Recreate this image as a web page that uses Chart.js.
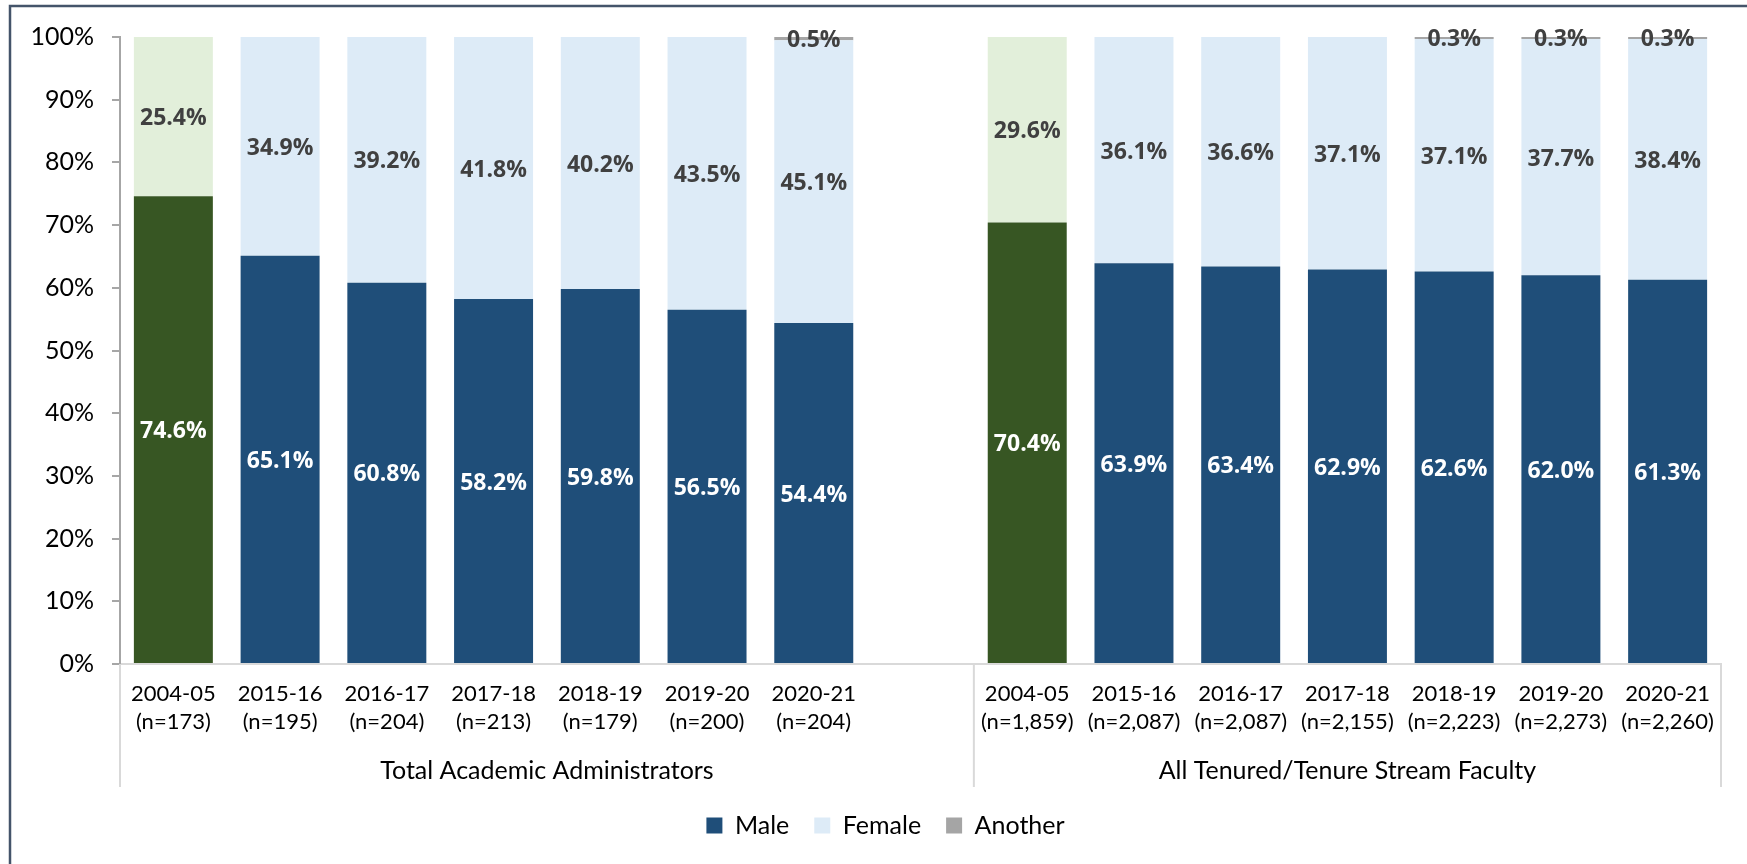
<!DOCTYPE html>
<html>
<head>
<meta charset="utf-8">
<script src="https://cdn.jsdelivr.net/npm/chart.js@4.4.1/dist/chart.umd.min.js"></script>
<style>
html,body{margin:0;padding:0;background:#ffffff;}
#wrap{width:1747px;height:864px;position:relative;}
</style>
</head>
<body>
<div id="wrap"><canvas id="c" width="1747" height="864"></canvas></div>
<script>
// ---- data ----
const years  = ['2004-05','2015-16','2016-17','2017-18','2018-19','2019-20','2020-21','',
                '2004-05','2015-16','2016-17','2017-18','2018-19','2019-20','2020-21'];
const counts = ['(n=173)','(n=195)','(n=204)','(n=213)','(n=179)','(n=200)','(n=204)','',
                '(n=1,859)','(n=2,087)','(n=2,087)','(n=2,155)','(n=2,223)','(n=2,273)','(n=2,260)'];
const groupNames = ['Total Academic Administrators','All Tenured/Tenure Stream Faculty'];
const groupFirst = [0, 8];
const groupLast  = [7, 14];
const male    = [74.6, 65.1, 60.8, 58.2, 59.8, 56.5, 54.4, null, 70.4, 63.9, 63.4, 62.9, 62.6, 62.0, 61.3];
const female  = [25.4, 34.9, 39.2, 41.8, 40.2, 43.5, 45.1, null, 29.6, 36.1, 36.6, 37.1, 37.1, 37.7, 38.4];
const another = [null, null, null, null, null, null, 0.5, null, null, null, null, null, 0.3, 0.3, 0.3];
const seriesNames = ['Male','Female','Another'];
const yTickValues = [0,10,20,30,40,50,60,70,80,90,100];
const baselineYear = '2004-05';

// ---- styles ----
const C_MALE = '#1F4E79', C_FEMALE = '#DDEBF7', C_ANOTHER = '#A5A5A5';
const C_MALE_OLD = '#375623', C_FEMALE_OLD = '#E2EFDA';
const legendColors = [C_MALE, C_FEMALE, C_ANOTHER];
const isOld = i => years[i] === baselineYear;

const labels = years.map((y, i) => y ? [y, counts[i]] : '');

const dataLabels = {
  id: 'dataLabels',
  afterDatasetsDraw(chart) {
    const ctx = chart.ctx;
    chart.data.datasets.forEach((ds, di) => {
      const meta = chart.getDatasetMeta(di);
      if (meta.hidden) return;
      meta.data.forEach((bar, i) => {
        const v = ds.data[i];
        if (v == null || v === 0) return;
        const p = bar.getProps(['x', 'y', 'base'], true);
        ctx.save();
        ctx.font = 'bold 23px "Open Sans"';
        ctx.fillStyle = di === 0 ? '#FFFFFF' : '#404040';
        ctx.textAlign = 'center';
        ctx.textBaseline = 'middle';
        ctx.fillText(v.toFixed(1) + '%', p.x, (p.y + p.base) / 2 + 2);
        ctx.restore();
      });
    });
  }
};

const decor = {
  id: 'decor',
  afterDraw(chart) {
    const ctx = chart.ctx;
    const xs = chart.scales.x;
    const a = chart.chartArea;
    const lineBottom = a.bottom + 123;
    ctx.save();
    ctx.strokeStyle = '#D9D9D9';
    ctx.lineWidth = 2;
    const seps = [xs.getPixelForValue(-0.5), xs.getPixelForValue(7.5), xs.getPixelForValue(14.5)];
    seps.forEach(x => {
      ctx.beginPath();
      ctx.moveTo(x, a.bottom);
      ctx.lineTo(x, lineBottom);
      ctx.stroke();
    });
    ctx.fillStyle = '#000000';
    ctx.font = '25px Lato';
    ctx.textAlign = 'center';
    ctx.textBaseline = 'middle';
    groupNames.forEach((g, k) => {
      const x0 = xs.getPixelForValue(groupFirst[k] - 0.5);
      const x1 = xs.getPixelForValue(groupLast[k] + 0.5);
      ctx.fillText(g, (x0 + x1) / 2, a.bottom + 107);
    });
    ctx.strokeStyle = '#44546A';
    ctx.lineWidth = 2.5;
    ctx.beginPath();
    ctx.moveTo(10, 870);
    ctx.lineTo(10, 6);
    ctx.lineTo(1760, 6);
    ctx.stroke();
    ctx.restore();
  }
};

new Chart(document.getElementById('c'), {
  type: 'bar',
  data: {
    labels: labels,
    datasets: [
      { label: seriesNames[0], data: male,
        backgroundColor: ctx => isOld(ctx.dataIndex) ? C_MALE_OLD : C_MALE },
      { label: seriesNames[1], data: female,
        backgroundColor: ctx => isOld(ctx.dataIndex) ? C_FEMALE_OLD : C_FEMALE },
      { label: seriesNames[2], data: another, backgroundColor: C_ANOTHER }
    ]
  },
  options: {
    responsive: false,
    devicePixelRatio: 1,
    animation: false,
    layout: { padding: { left: 24, right: 0, top: 37, bottom: 16 } },
    datasets: { bar: { categoryPercentage: 1.0, barPercentage: 0.74, borderWidth: 0 } },
    scales: {
      x: {
        stacked: true,
        grid: { display: false, drawTicks: false },
        border: { display: true, color: '#D9D9D9', width: 2 },
        ticks: {
          color: '#000000', autoSkip: false, maxRotation: 0, padding: 16,
          font: { family: 'Lato', size: 22, lineHeight: 1.27 }
        },
        afterFit: s => { s.height = 124; }
      },
      y: {
        stacked: true,
        min: 0, max: 100,
        afterBuildTicks: s => { s.ticks = yTickValues.map(v => ({ value: v })); },
        grid: { drawOnChartArea: false, drawTicks: true, tickLength: 8, color: '#A6A6A6', lineWidth: 2 },
        border: { display: true, color: '#A6A6A6', width: 2 },
        ticks: {
          color: '#000000', padding: 18,
          font: { family: 'Lato', size: 25 },
          callback: v => v + '%'
        },
        afterFit: s => { s.width = 96; }
      },
      yRight: {
        position: 'right',
        display: true,
        min: 0, max: 100,
        grid: { display: false, drawTicks: false },
        border: { display: false },
        ticks: { display: false },
        afterFit: s => { s.width = 26; }
      }
    },
    plugins: {
      legend: {
        position: 'bottom',
        labels: {
          color: '#000000', boxWidth: 16, boxHeight: 16, padding: 25,
          font: { family: 'Lato', size: 25 },
          generateLabels: chart => chart.data.datasets.map((ds, i) => ({
            text: ds.label,
            fillStyle: legendColors[i],
            strokeStyle: legendColors[i],
            lineWidth: 0,
            hidden: false,
            datasetIndex: i,
            fontColor: '#000000'
          }))
        }
      },
      tooltip: { enabled: false }
    }
  },
  plugins: [dataLabels, decor]
});
</script>
</body>
</html>
